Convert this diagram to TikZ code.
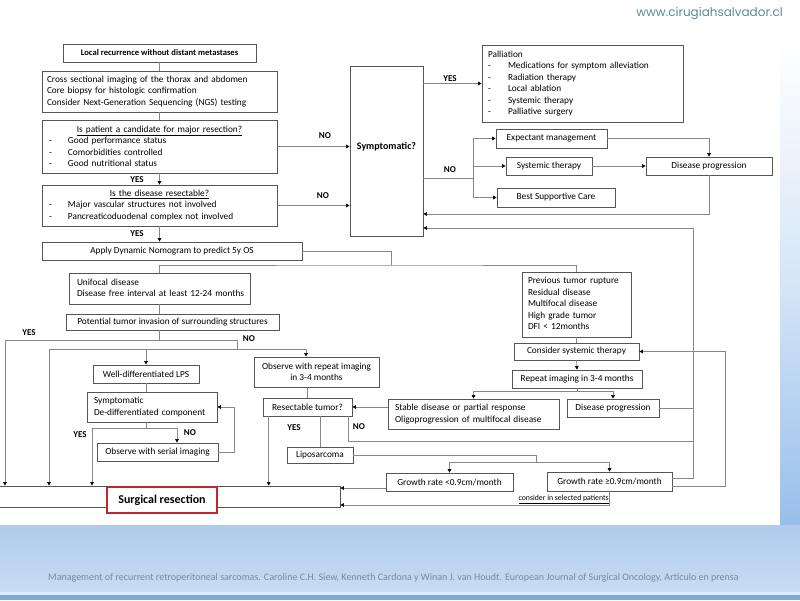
\documentclass[tikz,border=0pt]{standalone}
\usepackage{fontspec}
\setmainfont{Carlito}
\newfontfamily\urlfont{Poppins}
\usetikzlibrary{arrows.meta,calc}
\definecolor{boxc}{HTML}{555555}
\definecolor{linec}{HTML}{878787}
\definecolor{redc}{HTML}{C0282D}
\definecolor{footc}{HTML}{7A8896}
\definecolor{urlc}{HTML}{5B8A99}
\definecolor{bandA}{HTML}{AFCBED}
\definecolor{bandB}{HTML}{C8DCF3}
\definecolor{bandC}{HTML}{7EA8D8}
\definecolor{stripc}{HTML}{98BFEA}
\newcommand{\fs}{\fontsize{9.3}{11.5}\selectfont}
\newcommand{\dsh}{\makebox[19pt][l]{-}}
\newcommand{\dshp}{\makebox[20pt][l]{-}}
\newcommand{\tl}[1]{\begin{tabular}{@{}l@{}}#1\end{tabular}}
\tikzset{
  flowbox/.style={draw=boxc, line width=0.7pt, inner sep=0pt, font=\fs, fill=white},
  cx/.style={draw=linec, line width=0.65pt},
  arr/.style={cx, -{Triangle[length=3.6pt,width=3.6pt,color=black]}},
  lab/.style={font=\fontsize{9}{11}\selectfont\bfseries, inner sep=0pt},
}
\begin{document}
\begin{tikzpicture}[x=1pt,y=-1pt]
\useasboundingbox (0,0) rectangle (800,600);
% background
\fill[white] (0,0) rectangle (800,600);
\shade[top color=white, bottom color=stripc, middle color=white!60!stripc] (780,40) rectangle (800,525);
\shade[top color=bandA, bottom color=bandB] (0,525) rectangle (800,592);
\fill[bandB!60!white] (0,592) rectangle (800,595);
\fill[bandC] (0,595) rectangle (800,600);
\node[font=\urlfont\fontsize{12}{14}\selectfont, text=urlc, inner sep=0pt] (url) at (709.5,14) {www.cirugiahsalvador.cl};
\node[font=\fontsize{10}{12}\selectfont, text=footc, inner sep=0pt] (foot) at (393.5,578) {Management of recurrent retroperitoneal sarcomas. Caroline C.H. Siew, Kenneth Cardona y Winan J. van Houdt. European Journal of Surgical Oncology, Artículo en prensa};

% ---- left column top
\node[flowbox, font=\fontsize{8.6}{11}\selectfont\bfseries, minimum width=193pt, minimum height=18pt] (lr) at (159.5,53) {Local recurrence without distant metastases};
\node[flowbox, minimum width=235pt, minimum height=41pt, text width=225pt, inner xsep=5pt, align=left] (img) at (159.5,91.5) {\tl{Cross sectional imaging of the thorax and abdomen\\Core biopsy for histologic confirmation\\Consider Next-Generation Sequencing (NGS) testing}};
\node[flowbox, minimum width=235pt, minimum height=53pt, text width=221pt, inner xsep=7pt, align=left] (cand) at (159.5,146.5) {\makebox[221pt][c]{\underline{Is patient a candidate for major resection?}}\\\dsh Good performance status\\\dsh Comorbidities controlled\\\dsh Good nutritional status};
\node[flowbox, minimum width=235pt, minimum height=41pt, text width=221pt, inner xsep=7pt, align=left] (res) at (159.5,205.5) {\makebox[221pt][c]{\underline{Is the disease resectable?}}\\\dsh Major vascular structures not involved\\\dsh Pancreaticoduodenal complex not involved};
\node[flowbox, minimum width=260pt, minimum height=18pt] (nomo) at (172,251) {Apply Dynamic Nomogram to predict 5y OS};

% ---- symptomatic branch
\node[flowbox, font=\fontsize{10}{12}\selectfont\bfseries, minimum width=73pt, minimum height=170pt] (symp) at (386.5,151) {\raisebox{0pt}[0pt][4pt]{Symptomatic?}};
\node[flowbox, minimum width=201pt, minimum height=77pt, text width=189pt, inner xsep=6pt, align=left] (pall) at (582.5,83.5) {\tl{Palliation\\\dshp Medications for symptom alleviation\\\dshp Radiation therapy\\\dshp Local ablation\\\dshp Systemic therapy\\\dshp Palliative surgery}};
\node[flowbox, minimum width=111pt, minimum height=19pt] (exp) at (551.5,138.5) {Expectant management};
\node[flowbox, minimum width=86pt, minimum height=18pt] (sys) at (549,166) {Systemic therapy};
\node[flowbox, minimum width=118pt, minimum height=19pt] (bsc) at (556,197.5) {Best Supportive Care};
\node[flowbox, minimum width=126pt, minimum height=18pt] (dp1) at (709,166) {Disease progression};

% ---- middle part
\node[flowbox, minimum width=181pt, minimum height=31pt, text width=165pt, inner xsep=8pt, align=left] (uni) at (159.5,288.5) {\tl{Unifocal disease\\Disease free interval at least 12-24 months}};
\node[flowbox, minimum width=213pt, minimum height=16pt] (pot) at (172.5,322) {Potential tumor invasion of surrounding structures};
\node[flowbox, minimum width=106pt, minimum height=18pt] (wd) at (146,374) {Well-differentiated LPS};
\node[flowbox, minimum width=130pt, minimum height=30pt, text width=116pt, inner xsep=7pt, align=left] (sdd) at (152,407) {\tl{Symptomatic\\De-differentiated component}};
\node[flowbox, minimum width=121pt, minimum height=18pt] (obs) at (157.5,452) {Observe with serial imaging};
\node[flowbox, minimum width=125pt, minimum height=30pt, align=center] (orep) at (316.5,372) {Observe with repeat imaging\\in 3-4 months};
\node[flowbox, minimum width=89pt, minimum height=18pt] (rt) at (307.5,407) {Resectable tumor?};
\node[flowbox, minimum width=66pt, minimum height=16pt] (lipo) at (320,455) {Liposarcoma};
\node[flowbox, minimum width=127pt, minimum height=18pt] (gr1) at (449.5,482) {Growth rate <0.9cm/month};
\node[flowbox, minimum width=125pt, minimum height=19pt] (gr2) at (609.5,481.5) {Growth rate ≥0.9cm/month};

% ---- right part
\node[flowbox, minimum width=109pt, minimum height=65pt, text width=97pt, inner xsep=6pt, align=left] (prev) at (576.5,304.5) {\tl{Previous tumor rupture\\Residual disease\\Multifocal disease\\High grade tumor\\DFI < 12months}};
\node[flowbox, minimum width=125pt, minimum height=17pt] (cst) at (576.5,351.5) {Consider systemic therapy};
\node[flowbox, minimum width=130pt, minimum height=18pt] (rep) at (577,379) {Repeat imaging in 3-4 months};
\node[flowbox, minimum width=171pt, minimum height=30pt, text width=157pt, inner xsep=7pt, align=left] (stab) at (473.5,414) {\tl{Stable disease or partial response\\Oligoprogression of multifocal disease}};
\node[flowbox, minimum width=92pt, minimum height=18pt] (dp2) at (613,408) {Disease progression};

% ---- surgical resection
\node[flowbox, minimum width=342pt, minimum height=21pt] (surg) at (169,496.5) {};
\node[draw=redc, fill=white, line width=1.1pt, inner sep=0pt, minimum width=110pt, minimum height=26pt, font=\fontsize{12}{14}\selectfont\bfseries] (surgred) at (162,500) {Surgical resection};

% ---- connectors top left
\draw[cx] (lr.south) -- (img.north);
\draw[cx] (img.south) -- (cand.north);
\draw[arr] (cand.south) -- (res.north);
\draw[arr] (res.south) -- (res.south |- nomo.north);
\node[lab] (y1) at (137,180) {YES};
\node[lab] (y2) at (137,234) {YES};
\draw[arr] (cand.east) -- (symp.west |- cand.east);
\draw[arr] (res.east) -- (symp.west |- res.east);
\node[lab] (n1) at (325,136) {NO};
\node[lab] (n2) at (323,196) {NO};

% ---- symptomatic connectors
\draw[arr] (symp.east |- pall.west) -- (pall.west);
\node[lab] (y3) at (450,79) {YES};
\coordinate (nb) at (473,178);
\draw[cx] (symp.east |- nb) -- (nb);
\draw[cx] (nb |- exp.west) -- (nb |- bsc.west);
\draw[arr] (nb |- exp.west) -- (exp.west);
\draw[arr] (nb |- sys.west) -- (sys.west);
\draw[arr] (nb |- bsc.west) -- (bsc.west);
\node[lab] (n3) at (450,170) {NO};
\draw[arr] (sys.east) -- (dp1.west);
\draw[arr] (exp.east) -| (dp1.north);
\draw[arr] (dp1.south) |- (symp.east |- 0,214);

% return line at x=693
\coordinate (r693) at (693,228);
\draw[arr] ([yshift=3.5pt]gr2.east) -| (r693) -- (symp.east |- r693);
\draw[cx] (dp2.east) -- (dp2.east -| r693);
\draw[cx] ([xshift=-4pt]rt.south east) |- (r693 |- 0,441);
\node[lab] (n4) at (359,427) {NO};
\coordinate (r725) at (725,351);
\draw[arr] ([yshift=-4.5pt]gr2.east) -| (r725 |- cst.east) -- (cst.east);

% nomogram split
\coordinate (n391) at (391,265);
\draw[cx] (nomo.east) -| (n391);
\draw[cx] (uni.north) |- (n391) -| (prev.north);

% right column
\draw[cx] (prev.south) -- (cst.north);
\draw[arr] (cst.south) -- (rep.north);
\coordinate (rb) at (577,391);
\draw[cx] (rep.south) -- (rb);
\draw[arr] (rb) -| (stab.north);
\draw[arr] (rb) -| (dp2.north);
\draw[arr] (stab.west |- rt.east) -- (rt.east);

% middle column
\draw[cx] (uni.south) -- (uni.south |- pot.north);
\coordinate (L1) at (5,340);
\coordinate (L2) at (237,340);
\coordinate (M1) at (49,349);
\coordinate (M2) at (306,349);
\draw[cx] (uni.south |- pot.south) -- (uni.south |- L1);
\draw[arr] (L2) -- (L1) -- (L1 |- surg.north);
\node[lab] (y4) at (29,333) {YES};
\node[lab] (n5) at (249,339) {NO};
\draw[cx] (L2) -- (L2 |- M1);
\draw[arr] (M2) -- (M1) -- (M1 |- surg.north);
\draw[arr] (M2) -- (M2 |- orep.north);
\draw[arr] (wd.north |- M1) -- (wd.north);
\draw[cx] (wd.south) -- (wd.south |- sdd.north);
\coordinate (Y1) at (92,428);
\coordinate (Y2) at (177,428);
\draw[cx] (wd.south |- sdd.south) -- (wd.south |- Y1);
\draw[arr] (Y2) -- (Y1) -- (Y1 |- surg.north);
\draw[arr] (Y2) -- (Y2 |- obs.north);
\node[lab] (y5) at (80,435) {YES};
\node[lab] (n6) at (190,433) {NO};
\coordinate (o234) at (234,452);
\draw[arr] (obs.east) -- (o234) -- (o234 |- sdd.east) -- (sdd.east);

\draw[cx] (rt.north) -- (rt.north |- orep.south);
\draw[arr] ([xshift=6pt]rt.south west) -- ([xshift=6pt]rt.south west |- surg.north);
\node[lab] (y6) at (294,428) {YES};
\draw[cx] (lipo.north) -- (lipo.north |- rt.south);
\coordinate (g536) at (536,462);
\draw[cx] (lipo.east) -| (g536);
\draw[arr] (g536) -| (gr1.north);
\draw[arr] (g536) -| (gr2.north);
\coordinate (g1w) at ([yshift=-6pt]gr1.west);
\draw[arr] (g1w) -- (surg.east |- g1w);
\draw[arr] (gr2.south) |- (surg.east |- 0,505);
\node[font=\fontsize{7.8}{9}\selectfont, inner sep=0pt, anchor=south east] (csel) at (609,503.5) {\underline{consider in selected patients}};
\end{tikzpicture}
\end{document}
